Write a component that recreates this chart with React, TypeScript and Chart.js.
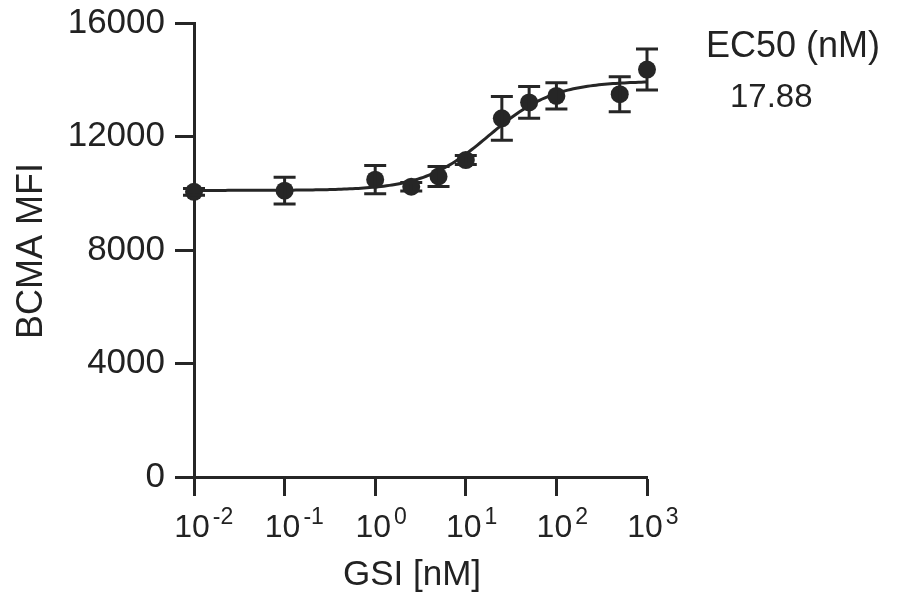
import { useEffect, useRef } from "react";
import { Chart, registerables } from "chart.js";

Chart.register(...registerables);

// GSI titration: mean BCMA MFI with error (SEM) at each concentration
const gsiConc = [0.01, 0.1, 1, 2.5, 5, 10, 25, 50, 100, 500, 1000];
const bcmaMean = [10050, 10090, 10480, 10230, 10590, 11170, 12640, 13200, 13430, 13490, 14360];
const bcmaSem = [120, 470, 500, 150, 350, 160, 770, 560, 460, 620, 720];

// Four-parameter logistic fit parameters
const fitBottom = 10100;
const fitTop = 13950;
const ec50 = 17.88;
const hillSlope = 1.2;

const xTickExponents = [-2, -1, 0, 1, 2, 3];
const yTickValues = [0, 4000, 8000, 12000, 16000];

const xTitle = "GSI [nM]";
const yTitle = "BCMA MFI";
const ec50Header = "EC50 (nM)";
const ec50Text = ec50.toFixed(2);

const INK = "#262626";
const TEXT = "#222222";
const FAMILY = '"Liberation Sans", Arial, Helvetica, sans-serif';

function fourPL(x: number): number {
  return fitBottom + (fitTop - fitBottom) / (1 + Math.pow(ec50 / x, hillSlope));
}

// Smooth fitted curve across the plotted concentration range
const curveSamples = 160;
const curvePoints = Array.from({ length: curveSamples + 1 }, (_, i) => {
  const lx = -2 + (5 * i) / curveSamples;
  const x = Math.pow(10, lx);
  return { x, y: fourPL(x) };
});

const meanPoints = gsiConc.map((x, i) => ({ x, y: bcmaMean[i] }));

const errorBarPlugin = {
  id: "errorBars",
  afterDatasetsDraw(chart: any) {
    const { ctx, scales } = chart;
    const xs = scales.x;
    const ys = scales.y;
    ctx.save();
    ctx.strokeStyle = INK;
    ctx.lineWidth = 3;
    const cap = 11;
    gsiConc.forEach((c, i) => {
      const px = xs.getPixelForValue(c);
      const top = ys.getPixelForValue(bcmaMean[i] + bcmaSem[i]);
      const bot = ys.getPixelForValue(bcmaMean[i] - bcmaSem[i]);
      ctx.beginPath();
      ctx.moveTo(px, top);
      ctx.lineTo(px, bot);
      ctx.moveTo(px - cap, top);
      ctx.lineTo(px + cap, top);
      ctx.moveTo(px - cap, bot);
      ctx.lineTo(px + cap, bot);
      ctx.stroke();
    });
    ctx.restore();
  },
};

const textPlugin = {
  id: "axisText",
  afterDraw(chart: any) {
    const { ctx, scales, chartArea } = chart;
    const xs = scales.x;
    ctx.save();
    ctx.fillStyle = TEXT;
    ctx.textBaseline = "alphabetic";

    // x tick labels: 10 with raised exponent
    xTickExponents.forEach((e) => {
      const px = xs.getPixelForValue(Math.pow(10, e));
      ctx.font = `32px ${FAMILY}`;
      const base = "10";
      const wBase = ctx.measureText(base).width;
      const left = px - 2 - wBase / 2;
      ctx.textAlign = "left";
      ctx.fillText(base, left, 537);
      ctx.font = `23px ${FAMILY}`;
      ctx.fillText(e < 0 ? `-${-e}` : String(e), left + wBase + 3, 524);
    });

    // x axis title
    ctx.font = `35px ${FAMILY}`;
    ctx.textAlign = "center";
    ctx.fillText(xTitle, 412, 585);

    // y axis title
    ctx.save();
    ctx.translate(42, (chartArea.top + chartArea.bottom) / 2 + 1);
    ctx.rotate(-Math.PI / 2);
    ctx.textAlign = "center";
    ctx.font = `36px ${FAMILY}`;
    ctx.fillText(yTitle, 0, 0);
    ctx.restore();

    // EC50 annotation
    ctx.textAlign = "left";
    ctx.font = `36px ${FAMILY}`;
    ctx.fillText(ec50Header, 706, 57);
    ctx.font = `33px ${FAMILY}`;
    ctx.fillText(ec50Text, 730, 107);
    ctx.restore();
  },
};

export default function App() {
  const ref = useRef<HTMLCanvasElement>(null);

  useEffect(() => {
    const canvas = ref.current;
    if (!canvas) return;
    const tickGrid = {
      display: true,
      drawOnChartArea: false,
      drawTicks: true,
      tickLength: 19,
      tickWidth: 3,
      tickColor: INK,
    };
    const axisBorder = { display: true, width: 3, color: INK };

    const chart = new Chart(canvas, {
      type: "scatter",
      data: {
        datasets: [
          {
            type: "line",
            data: curvePoints,
            borderColor: INK,
            borderWidth: 3,
            pointRadius: 0,
            fill: false,
            tension: 0,
            clip: false,
            order: 2,
          } as any,
          {
            type: "scatter",
            data: meanPoints,
            backgroundColor: INK,
            borderWidth: 0,
            pointRadius: 9,
            clip: false,
            order: 1,
          } as any,
        ],
      },
      options: {
        responsive: false,
        animation: false,
        devicePixelRatio: 1,
        layout: { padding: { top: 23, right: 251, left: 0, bottom: 0 } },
        plugins: {
          legend: { display: false },
          tooltip: { enabled: false },
        },
        scales: {
          x: {
            type: "logarithmic",
            min: 0.01,
            max: 1000,
            afterBuildTicks: (s: any) => {
              s.ticks = xTickExponents.map((e) => ({ value: Math.pow(10, e) }));
            },
            afterFit: (s: any) => {
              s.height = 121;
              s.paddingLeft = 0;
              s.paddingRight = 0;
            },
            ticks: { display: false },
            grid: tickGrid,
            border: axisBorder,
          },
          y: {
            type: "linear",
            min: 0,
            max: 16000,
            afterBuildTicks: (s: any) => {
              s.ticks = yTickValues.map((v) => ({ value: v }));
            },
            afterFit: (s: any) => {
              s.width = 194;
              s.paddingTop = 0;
              s.paddingBottom = 0;
            },
            ticks: {
              color: TEXT,
              padding: 10,
              font: { family: FAMILY, size: 35 },
              callback: (v: any) => String(v),
            },
            grid: tickGrid,
            border: axisBorder,
          },
        },
      } as any,
      plugins: [errorBarPlugin, textPlugin],
    });
    return () => chart.destroy();
  }, []);

  return (
    <div
      style={{
        position: "absolute",
        left: 0,
        top: 0,
        width: 898,
        height: 598,
        background: "#ffffff",
      }}
    >
      <canvas ref={ref} width={898} height={598} style={{ display: "block" }} />
    </div>
  );
}
